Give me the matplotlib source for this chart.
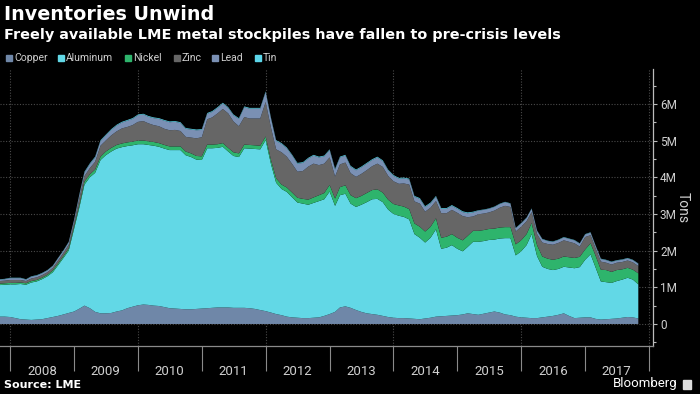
import pandas as pd
import matplotlib
matplotlib.use("Agg")
import matplotlib.pyplot as plt
import matplotlib.dates as mdates
from matplotlib.patches import Rectangle
from matplotlib.ticker import FixedLocator, FuncFormatter

plt.rcParams["font.family"] = ["Roboto", "DejaVu Sans"]

# =========================
# Data (million tonnes, monthly, Nov 2007 - Nov 2017)
# =========================
dates = pd.date_range("2007-11-01", periods=121, freq="MS")

copper = [
    0.20, 0.20, 0.19, 0.16, 0.13, 0.12, 0.11, 0.12, 0.13, 0.16,
    0.19, 0.22, 0.26, 0.30, 0.34, 0.42, 0.50, 0.43, 0.33, 0.29,
    0.29, 0.30, 0.34, 0.37, 0.43, 0.47, 0.51, 0.53, 0.52, 0.50,
    0.49, 0.46, 0.43, 0.42, 0.41, 0.40, 0.40, 0.41, 0.42, 0.43,
    0.44, 0.45, 0.45, 0.45, 0.44, 0.44, 0.44, 0.43, 0.41, 0.38,
    0.35, 0.31, 0.27, 0.24, 0.20, 0.18, 0.17, 0.16, 0.16, 0.17,
    0.18, 0.22, 0.27, 0.33, 0.45, 0.48, 0.44, 0.38, 0.33, 0.29,
    0.27, 0.25, 0.22, 0.19, 0.17, 0.16, 0.16, 0.15, 0.14, 0.13,
    0.15, 0.17, 0.20, 0.21, 0.22, 0.23, 0.24, 0.26, 0.29, 0.27,
    0.25, 0.28, 0.31, 0.34, 0.31, 0.26, 0.24, 0.20, 0.18, 0.17,
    0.16, 0.16, 0.18, 0.20, 0.22, 0.25, 0.29, 0.22, 0.16, 0.17,
    0.18, 0.18, 0.14, 0.12, 0.13, 0.14, 0.15, 0.17, 0.19, 0.18, 0.15,
]
aluminum = [
    0.86, 0.87, 0.89, 0.92, 0.96, 0.95, 1.02, 1.04, 1.09, 1.14,
    1.22, 1.38, 1.54, 1.70, 2.26, 2.78, 3.30, 3.57, 3.79, 4.18,
    4.31, 4.40, 4.44, 4.45, 4.42, 4.40, 4.39, 4.37, 4.36, 4.36,
    4.34, 4.32, 4.31, 4.32, 4.33, 4.20, 4.15, 4.07, 4.05, 4.36,
    4.35, 4.35, 4.38, 4.25, 4.14, 4.11, 4.35, 4.35, 4.36, 4.38,
    4.66, 4.04, 3.58, 3.44, 3.40, 3.27, 3.14, 3.12, 3.09, 3.13,
    3.17, 3.18, 3.34, 2.89, 3.06, 3.07, 2.84, 2.81, 2.92, 3.03,
    3.13, 3.16, 3.10, 2.93, 2.83, 2.79, 2.76, 2.70, 2.31, 2.22,
    2.07, 2.18, 2.38, 1.84, 1.86, 1.92, 1.81, 1.72, 1.81, 1.97,
    1.99, 1.98, 1.98, 1.96, 2.02, 2.08, 2.10, 1.67, 1.80, 1.98,
    2.29, 1.69, 1.38, 1.30, 1.25, 1.25, 1.27, 1.32, 1.36, 1.38,
    1.57, 1.72, 1.41, 1.04, 1.01, 0.98, 1.02, 1.04, 1.07, 1.03, 0.93,
]
nickel = [
    0.04, 0.04, 0.04, 0.04, 0.04, 0.04, 0.04, 0.04, 0.04, 0.04,
    0.05, 0.05, 0.05, 0.06, 0.06, 0.07, 0.08, 0.08, 0.09, 0.09,
    0.10, 0.10, 0.10, 0.10, 0.10, 0.10, 0.10, 0.10, 0.10, 0.10,
    0.10, 0.10, 0.10, 0.10, 0.10, 0.10, 0.10, 0.10, 0.10, 0.10,
    0.10, 0.10, 0.10, 0.10, 0.10, 0.10, 0.10, 0.10, 0.10, 0.10,
    0.10, 0.11, 0.12, 0.12, 0.12, 0.13, 0.13, 0.13, 0.14, 0.15,
    0.16, 0.17, 0.18, 0.20, 0.22, 0.23, 0.23, 0.24, 0.24, 0.25,
    0.25, 0.26, 0.26, 0.27, 0.27, 0.28, 0.28, 0.28, 0.29, 0.30,
    0.30, 0.30, 0.30, 0.30, 0.30, 0.30, 0.30, 0.30, 0.30, 0.30,
    0.30, 0.30, 0.30, 0.30, 0.30, 0.30, 0.30, 0.30, 0.30, 0.30,
    0.30, 0.30, 0.28, 0.28, 0.28, 0.28, 0.28, 0.28, 0.28, 0.28,
    0.28, 0.30, 0.32, 0.32, 0.33, 0.30, 0.30, 0.28, 0.27, 0.27, 0.30,
]
zinc = [
    0.07, 0.07, 0.08, 0.08, 0.07, 0.06, 0.07, 0.07, 0.07, 0.07,
    0.07, 0.08, 0.09, 0.10, 0.10, 0.18, 0.15, 0.17, 0.21, 0.30,
    0.30, 0.34, 0.37, 0.41, 0.42, 0.45, 0.51, 0.53, 0.49, 0.46,
    0.46, 0.44, 0.44, 0.45, 0.42, 0.40, 0.43, 0.48, 0.52, 0.69,
    0.74, 0.84, 0.93, 0.94, 0.84, 0.74, 0.75, 0.72, 0.73, 0.74,
    0.94, 0.88, 0.79, 0.88, 0.84, 0.78, 0.71, 0.76, 0.90, 0.92,
    0.82, 0.80, 0.75, 0.60, 0.62, 0.62, 0.60, 0.58, 0.60, 0.62,
    0.65, 0.70, 0.70, 0.65, 0.62, 0.59, 0.63, 0.67, 0.60, 0.63,
    0.54, 0.52, 0.47, 0.67, 0.64, 0.66, 0.68, 0.66, 0.51, 0.39,
    0.45, 0.45, 0.45, 0.49, 0.54, 0.58, 0.55, 0.35, 0.37, 0.35,
    0.30, 0.30, 0.38, 0.40, 0.41, 0.43, 0.44, 0.42, 0.40, 0.28,
    0.34, 0.22, 0.20, 0.22, 0.20, 0.20, 0.20, 0.20, 0.20, 0.20, 0.20,
]
lead = [
    0.04, 0.04, 0.05, 0.05, 0.05, 0.04, 0.05, 0.05, 0.05, 0.05,
    0.05, 0.06, 0.06, 0.07, 0.08, 0.09, 0.10, 0.11, 0.12, 0.13,
    0.14, 0.15, 0.16, 0.16, 0.17, 0.17, 0.18, 0.18, 0.18, 0.19,
    0.20, 0.22, 0.22, 0.22, 0.22, 0.22, 0.22, 0.22, 0.20, 0.15,
    0.15, 0.15, 0.15, 0.15, 0.17, 0.20, 0.27, 0.27, 0.27, 0.27,
    0.27, 0.25, 0.23, 0.23, 0.23, 0.23, 0.22, 0.22, 0.22, 0.22,
    0.21, 0.20, 0.20, 0.19, 0.19, 0.19, 0.18, 0.18, 0.18, 0.18,
    0.17, 0.17, 0.16, 0.15, 0.15, 0.14, 0.14, 0.14, 0.13, 0.13,
    0.13, 0.12, 0.12, 0.12, 0.12, 0.11, 0.11, 0.11, 0.11, 0.11,
    0.10, 0.10, 0.10, 0.10, 0.10, 0.10, 0.09, 0.09, 0.09, 0.09,
    0.09, 0.09, 0.09, 0.08, 0.08, 0.08, 0.08, 0.08, 0.08, 0.08,
    0.07, 0.07, 0.07, 0.07, 0.07, 0.07, 0.06, 0.06, 0.06, 0.06, 0.06,
]
tin = [
    0.01, 0.01, 0.01, 0.01, 0.01, 0.01, 0.01, 0.01, 0.01, 0.01,
    0.01, 0.01, 0.01, 0.01, 0.01, 0.02, 0.02, 0.02, 0.02, 0.02,
    0.02, 0.02, 0.02, 0.02, 0.02, 0.02, 0.02, 0.02, 0.02, 0.02,
    0.02, 0.02, 0.02, 0.02, 0.02, 0.02, 0.02, 0.02, 0.02, 0.02,
    0.02, 0.02, 0.02, 0.02, 0.02, 0.02, 0.02, 0.02, 0.02, 0.02,
    0.02, 0.02, 0.02, 0.02, 0.02, 0.02, 0.02, 0.02, 0.02, 0.02,
    0.02, 0.02, 0.02, 0.02, 0.02, 0.02, 0.02, 0.02, 0.02, 0.02,
    0.02, 0.02, 0.02, 0.02, 0.02, 0.02, 0.02, 0.02, 0.02, 0.02,
    0.02, 0.02, 0.02, 0.02, 0.02, 0.02, 0.02, 0.02, 0.02, 0.02,
    0.01, 0.01, 0.01, 0.01, 0.01, 0.01, 0.01, 0.01, 0.01, 0.01,
    0.01, 0.01, 0.01, 0.01, 0.01, 0.01, 0.01, 0.01, 0.01, 0.01,
    0.01, 0.01, 0.01, 0.01, 0.01, 0.01, 0.01, 0.01, 0.01, 0.01, 0.01,
]

metals = ["Copper", "Aluminum", "Nickel", "Zinc", "Lead", "Tin"]
colors = ["#6f87a8", "#62d8e6", "#2eb46c", "#666666", "#7a90b4", "#5cd6ea"]
y_ticks = [0, 1, 2, 3, 4, 5, 6]
grid_years = [2008, 2010, 2012, 2014, 2016, 2018]

BOLD = {"family": ["DejaVu Sans"], "weight": "bold"}

# =========================
# Figure
# =========================
fig = plt.figure(figsize=(7.0, 3.94), dpi=100, facecolor="black")
ax = fig.add_axes([0.0, 48 / 394, 653 / 700, 277 / 394], facecolor="black")

ax.stackplot(dates, copper, aluminum, nickel, zinc, lead, tin,
             colors=colors, linewidth=0, zorder=2)

# gridlines
for v in y_ticks:
    ax.axhline(v, color="#4a4a4a", lw=0.8, ls=(0, (1, 1.5)), zorder=1)
for yr in grid_years:
    ax.axvline(pd.Timestamp(f"{yr}-01-01"), color="#4a4a4a", lw=0.8,
               ls=(0, (1, 1.5)), zorder=1)

ax.set_xlim(pd.Timestamp("2007-11-04"), pd.Timestamp("2018-01-24"))
ax.set_ylim(-0.6, 6.95)

# x axis: year separators + centred labels
ax.xaxis.set_major_locator(mdates.YearLocator())
ax.xaxis.set_major_formatter(plt.NullFormatter())
ax.xaxis.set_minor_locator(mdates.MonthLocator(bymonth=7))
ax.xaxis.set_minor_formatter(mdates.DateFormatter("%Y"))
ax.tick_params(axis="x", which="major", length=18, width=0.8, color="#8a8a8a")
ax.tick_params(axis="x", which="minor", length=0, pad=14, labelsize=9.5,
               labelcolor="#d0d0d0")

# y axis on the right
ax.yaxis.tick_right()
ax.yaxis.set_major_locator(FixedLocator(y_ticks))
ax.yaxis.set_minor_locator(FixedLocator([v + 0.5 for v in [-1] + y_ticks]))
ax.yaxis.set_major_formatter(FuncFormatter(lambda v, p: "0" if v == 0 else f"{v:g}M"))
ax.tick_params(axis="y", which="major", length=3, width=0.8, color="#bbbbbb",
               labelsize=8.5, labelcolor="#d0d0d0", pad=2)
ax.tick_params(axis="y", which="minor", length=2.5, width=0.8, color="#bbbbbb")

for side in ["left", "top"]:
    ax.spines[side].set_visible(False)
ax.spines["right"].set_color("#bbbbbb")
ax.spines["bottom"].set_color("#8a8a8a")
ax.spines["right"].set_linewidth(0.9)
ax.spines["bottom"].set_linewidth(0.9)

fig.text(683 / 700, 1 - 208 / 394, "Tons", rotation=270, color="#d0d0d0",
         fontsize=10, ha="center", va="center")

# titles
fig.text(4 / 700, 1 - 14 / 394, "Inventories Unwind", color="white",
         fontsize=13.8, ha="left", va="center", **BOLD)
fig.text(4 / 700, 1 - 35 / 394,
         "Freely available LME metal stockpiles have fallen to pre-crisis levels",
         color="white", fontsize=10.4, ha="left", va="center", **BOLD)

# legend
legend_x = [6, 58, 125, 174, 212, 255]
for name, col, px in zip(metals, colors, legend_x):
    fig.patches.append(Rectangle((px / 700, 1 - 61 / 394), 6 / 700, 6 / 394,
                                 transform=fig.transFigure, color=col))
    fig.text((px + 8) / 700, 1 - 58 / 394, name, color="#cfcfcf",
             fontsize=7.5, ha="left", va="center")

# footer
fig.text(4 / 700, 1 - 385 / 394, "Source: LME", color="white", fontsize=8,
         ha="left", va="center", **BOLD)
fig.text(678 / 700, 1 - 384 / 394, "Bloomberg", color="white", fontsize=9.5,
         ha="right", va="center")
fig.patches.append(Rectangle((683 / 700, 1 - 389 / 394), 8 / 700, 9 / 394,
                             transform=fig.transFigure, color="#dddddd"))

fig.savefig("out.png", dpi=100, facecolor="black")
